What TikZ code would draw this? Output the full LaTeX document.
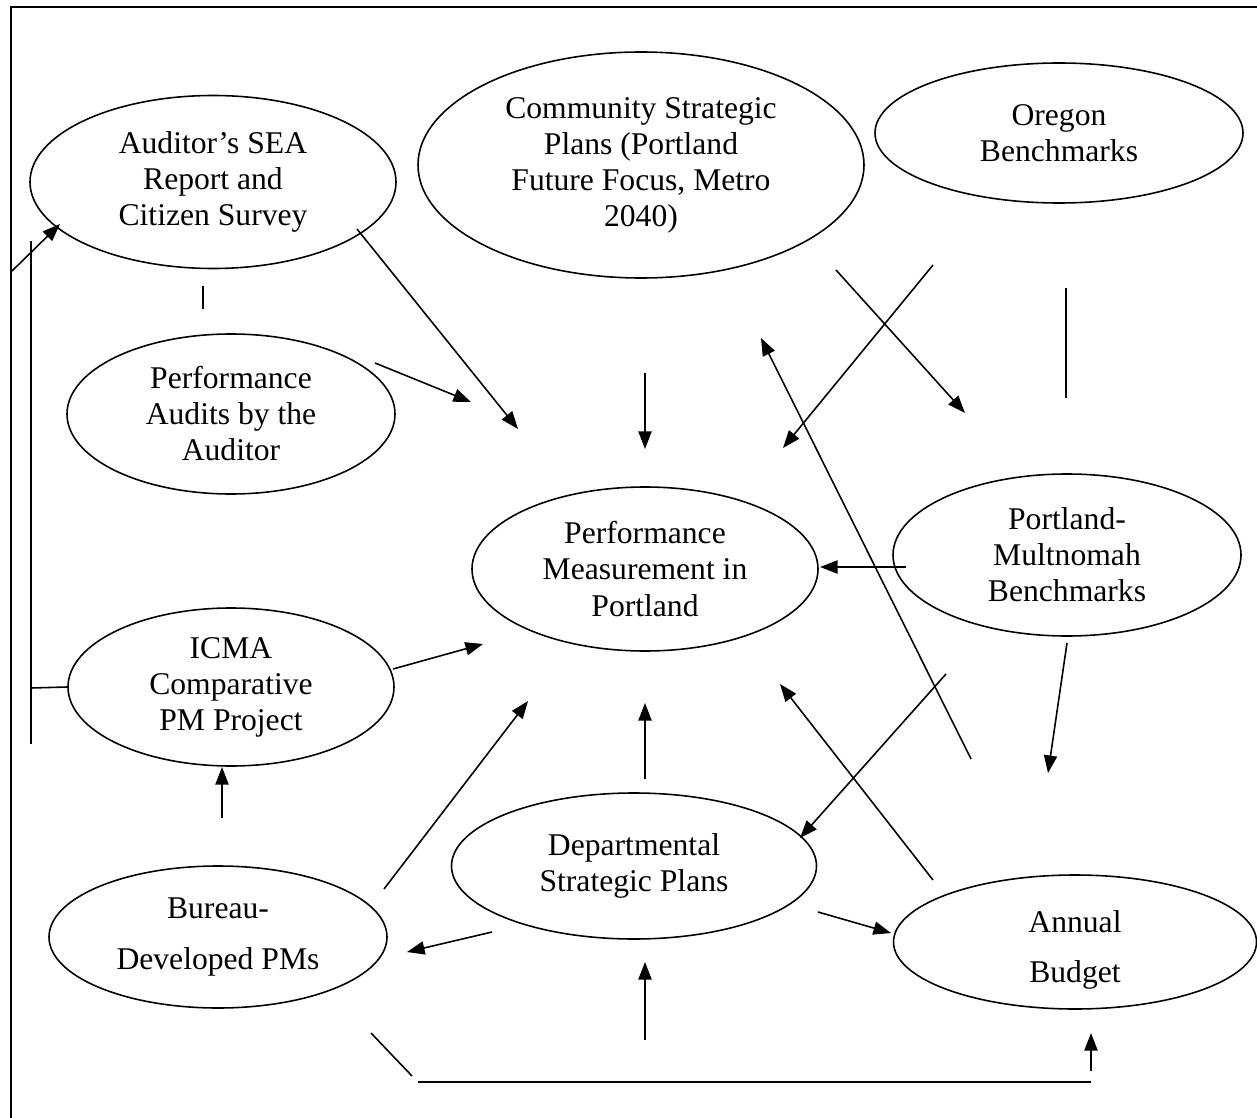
\documentclass[tikz,border=0pt]{standalone}
\usepackage{fontspec}
\setmainfont{Liberation Serif}
\usetikzlibrary{arrows.meta}
\usetikzlibrary{shapes.geometric}

\begin{document}
\begin{tikzpicture}[x=0.02cm, y=-0.02cm,
    oval/.style 2 args={ellipse, draw, line width=0.9pt, inner sep=0pt,
        minimum width=#1*0.02cm, minimum height=#2*0.02cm, align=center,
        font=\fontsize{18}{20.5}\selectfont},
    arr/.style={line width=0.9pt, -{Triangle[length=10pt,width=7.5pt]}},
    ln/.style={line width=0.9pt}]
    \useasboundingbox (0,0) rectangle (1257,1118);
    \draw[line width=1.2pt] (11,1118) -- (11,7) -- (1257,7);

    % the ovals
    \node[oval={366}{173}] (aud) at (213,182) {Auditor’s SEA\\Report and\\Citizen Survey};
    \node[oval={446}{226}] (csp) at (641,165) {Community Strategic\\Plans (Portland\\Future Focus, Metro\\2040)};
    \node[oval={368}{140}] (ore) at (1059,133) {Oregon\\Benchmarks};
    \node[oval={328}{160}] (pau) at (231,414) {Performance\\Audits by the\\Auditor};
    \node[oval={346}{164}] (pmp) at (645,569) {Performance\\Measurement in\\Portland};
    \node[oval={348}{162}] (pmb) at (1067,555) {Portland-\\Multnomah\\Benchmarks};
    \node[oval={326}{158}] (icma) at (231,687) {ICMA\\Comparative\\PM Project};
    \node[oval={365}{146}] (dsp) at (634,866) {Departmental\\Strategic Plans};
    \node[oval={338}{142}] (bur) at (218,937) {Bureau-\\[8pt]Developed PMs};
    \node[oval={363}{134}] (bud) at (1075,942) {\rule{0pt}{21pt}Annual\\[8pt]Budget};

    % loose ends of the connectors
    \foreach \n/\x/\y in {
        b1/12/271, b2/60/224,
        a1/357/229, a2/518/429,
        p1/375/363, p2/471/402,
        c1/645/373, c2/645/449,
        c3/836/270, c4/965/413,
        o1/933/265, o2/783/448,
        m1/906/567, m2/820/567,
        g1/971/759, g2/761/338,
        i1/393/669, i2/483/644,
        u1/384/889, u2/528/701,
        d1/645/779, d2/645/703,
        m3/1067/643, m4/1048/773,
        m5/946/674, m6/800/838,
        g3/933/880, g4/780/684,
        u3/222/818, u4/222/767,
        d3/492/932, d4/407/952,
        d5/818/912, d6/891/933,
        e1/645/1040, e2/645/962,
        e3/1091/1071, e4/1091/1033,
        l1/31/241, l2/31/744, l3/31/688,
        l4/203/286, l5/203/309,
        l6/1066/288, l7/1066/398,
        l8/371/1033, l9/412/1076,
        h1/418/1082, h2/1091/1082}
        \coordinate (\n) at (\x,\y);

    \foreach \s/\t in {
        b1/b2, a1/a2, p1/p2, c1/c2, c3/c4, o1/o2, m1/m2, g1/g2, i1/i2,
        u1/u2, d1/d2, m3/m4, m5/m6, g3/g4, u3/u4, d3/d4, d5/d6, e1/e2, e3/e4}
        \draw[arr] (\s) -- (\t);

    % plain lines
    \draw[ln] (l1) -- (l2);
    \draw[ln] (l3) -- (icma.west);
    \draw[ln] (l4) -- (l5);
    \draw[ln] (l6) -- (l7);
    \draw[ln] (l8) -- (l9);
    \draw[line width=1.3pt] (h1) -- (h2);
\end{tikzpicture}
\end{document}
